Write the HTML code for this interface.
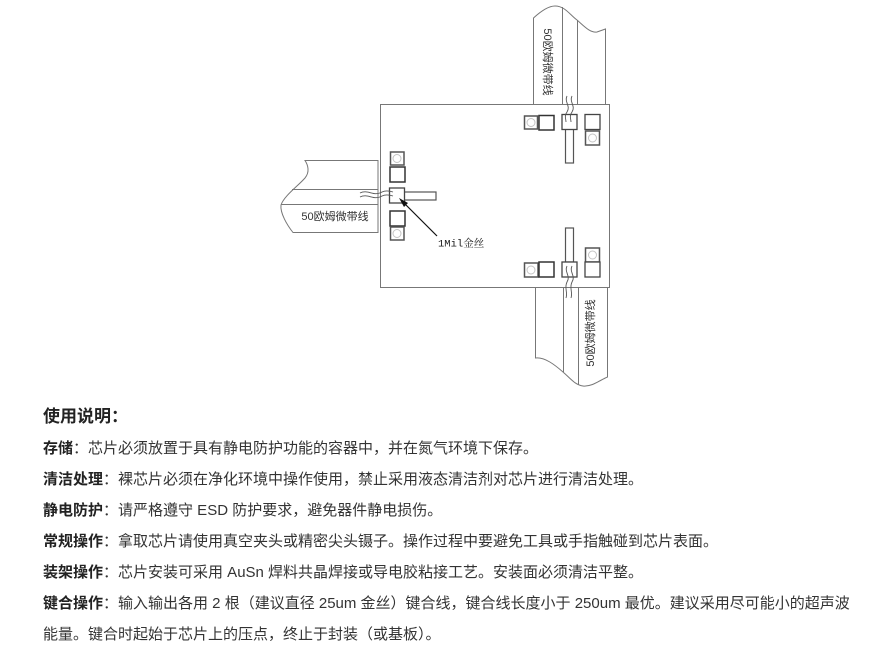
<!DOCTYPE html>
<html>
<head>
<meta charset="utf-8">
<style>
  html,body{margin:0;padding:0;background:#fff;}
  body{width:879px;height:650px;position:relative;overflow:hidden;
       font-family:"Liberation Sans","Noto Sans CJK SC",sans-serif;color:#333;}
  svg{position:absolute;left:0;top:0;}
  .h{position:absolute;left:43px;top:406px;font-size:17px;line-height:22px;font-weight:bold;color:#222;white-space:nowrap;}
  .l{position:absolute;left:43px;font-size:15px;line-height:20px;white-space:nowrap;color:#333;}
  .l b{color:#222;}
</style>
</head>
<body>
<svg width="879" height="400" viewBox="0 0 879 400" xmlns="http://www.w3.org/2000/svg">
  <g fill="none" stroke="#777" stroke-width="1">
    <!-- top strip -->
    <path d="M533.5,104 L533.5,18 C540,12 548,6 555,6 C565,6 570,15 577,20 C584,26 590,33 597,32 L605.5,29 L605.5,104" fill="#fff"/>
    <line x1="562.5" y1="7" x2="562.5" y2="104"/>
    <line x1="577.5" y1="20" x2="577.5" y2="104"/>
    <!-- bottom strip -->
    <path d="M535.5,288 L535.5,358 C545,357 555,365 563,372 C570,378 575,385 583,386 C592,387 600,380 607.5,377 L607.5,288" fill="#fff"/>
    <line x1="563.5" y1="288" x2="563.5" y2="372"/>
    <line x1="578.5" y1="288" x2="578.5" y2="385"/>
    <!-- left strip -->
    <path d="M378,160.5 L305,160.5 C308,165 310,172 305,178 C298,186 284,196 281,205 C280,213 287,225 293,232.5 L378,232.5 Z" fill="#fff"/>
    <line x1="292" y1="189.5" x2="378" y2="189.5"/>
    <line x1="281" y1="204.5" x2="378" y2="204.5"/>
    <line x1="378" y1="160.5" x2="378" y2="232.5"/>
    <!-- main rect -->
    <rect x="380.5" y="104.5" width="229" height="183" fill="#fff"/>
  </g>

  <!-- pads -->
  <g fill="#fff">
    <!-- top right -->
    <rect x="524.5" y="116" width="13" height="13" stroke="#555" stroke-width="1.5"/>
    <circle cx="531" cy="122.5" r="4" stroke="#c4c4c4" stroke-width="1"/>
    <rect x="539" y="115.5" width="15" height="14.5" stroke="#333" stroke-width="1.5"/>
    <rect x="565.5" y="129" width="8" height="34" stroke="#555" stroke-width="1.2"/>
    <rect x="562" y="114.5" width="15" height="15" stroke="#444" stroke-width="1.3"/>
    <rect x="585" y="114.5" width="15" height="15" stroke="#444" stroke-width="1.3"/>
    <rect x="585.5" y="131" width="14" height="14" stroke="#555" stroke-width="1.5"/>
    <circle cx="592.5" cy="138" r="4" stroke="#c4c4c4" stroke-width="1"/>

    <!-- bottom right -->
    <rect x="565.5" y="228" width="8" height="34" stroke="#555" stroke-width="1.2"/>
    <rect x="562" y="262" width="15" height="15" stroke="#444" stroke-width="1.3"/>
    <rect x="524.5" y="263" width="13.5" height="14" stroke="#555" stroke-width="1.5"/>
    <circle cx="531" cy="270" r="4" stroke="#c4c4c4" stroke-width="1"/>
    <rect x="539" y="262" width="15" height="15" stroke="#333" stroke-width="1.5"/>
    <rect x="585.5" y="248" width="14" height="14" stroke="#555" stroke-width="1.5"/>
    <circle cx="592.5" cy="255" r="4" stroke="#c4c4c4" stroke-width="1"/>
    <rect x="585" y="262" width="15" height="15" stroke="#444" stroke-width="1.3"/>

    <!-- left -->
    <rect x="390.5" y="152" width="13.5" height="13" stroke="#555" stroke-width="1.5"/>
    <circle cx="397" cy="158.5" r="4" stroke="#c4c4c4" stroke-width="1"/>
    <rect x="390" y="167" width="15" height="15" stroke="#333" stroke-width="1.5"/>
    <rect x="404" y="192" width="32" height="8" stroke="#555" stroke-width="1.2"/>
    <rect x="389.5" y="188" width="15" height="15" stroke="#444" stroke-width="1.3"/>
    <rect x="390" y="211" width="15" height="15" stroke="#333" stroke-width="1.5"/>
    <rect x="390.5" y="227" width="13.5" height="13" stroke="#555" stroke-width="1.5"/>
    <circle cx="397" cy="233.5" r="4" stroke="#c4c4c4" stroke-width="1"/>
  </g>

  <!-- wires -->
  <g fill="none" stroke="#555" stroke-width="0.9">
    <path d="M567,96 C564,102 571,106 567,112 C564,116 566,119 566,122"/>
    <path d="M572,96 C569,102 576,106 572,112 C569,116 571,119 571,122"/>
    <path d="M567,266 C564,272 571,276 567,282 C564,288 568,292 566,298"/>
    <path d="M572,266 C569,272 576,276 572,282 C569,288 573,292 571,298"/>
    <path d="M360,193 C368,189 374,197 382,192 C386,190 390,191 393,192"/>
    <path d="M360,197 C368,193 374,201 382,196 C386,194 390,195 393,196"/>
  </g>

  <!-- arrow -->
  <line x1="437" y1="236" x2="404" y2="203" stroke="#111" stroke-width="1.2"/>
  <polygon points="399,198 408,203 404,207" fill="#111"/>

  <!-- labels -->
  <text x="438" y="246.5" font-family="Liberation Mono, Noto Serif CJK SC, monospace" font-size="10.5" fill="#222">1Mil金丝</text>
  <text x="335" y="217" font-family="Liberation Sans, Noto Sans CJK SC, sans-serif" font-size="11" fill="#333" text-anchor="middle" dominant-baseline="central">50欧姆微带线</text>
  <text transform="translate(547,62) rotate(90)" font-family="Liberation Sans, Noto Sans CJK SC, sans-serif" font-size="11" fill="#333" text-anchor="middle" dominant-baseline="central">50欧姆微带线</text>
  <text transform="translate(591,333) rotate(-90)" font-family="Liberation Sans, Noto Sans CJK SC, sans-serif" font-size="11" fill="#333" text-anchor="middle" dominant-baseline="central">50欧姆微带线</text>
</svg>

<div class="h">使用说明：</div>
<div class="l" style="top:439px"><b>存储</b>：芯片必须放置于具有静电防护功能的容器中，并在氮气环境下保存。</div>
<div class="l" style="top:470px"><b>清洁处理</b>：裸芯片必须在净化环境中操作使用，禁止采用液态清洁剂对芯片进行清洁处理。</div>
<div class="l" style="top:501px"><b>静电防护</b>：请严格遵守 ESD 防护要求，避免器件静电损伤。</div>
<div class="l" style="top:532px"><b>常规操作</b>：拿取芯片请使用真空夹头或精密尖头镊子。操作过程中要避免工具或手指触碰到芯片表面。</div>
<div class="l" style="top:563px"><b>装架操作</b>：芯片安装可采用 AuSn 焊料共晶焊接或导电胶粘接工艺。安装面必须清洁平整。</div>
<div class="l" style="top:594px"><b>键合操作</b>：输入输出各用 2 根（建议直径 25um 金丝）键合线，键合线长度小于 250um 最优。建议采用尽可能小的超声波</div>
<div class="l" style="top:625px">能量。键合时起始于芯片上的压点，终止于封装（或基板）。</div>
</body>
</html>
